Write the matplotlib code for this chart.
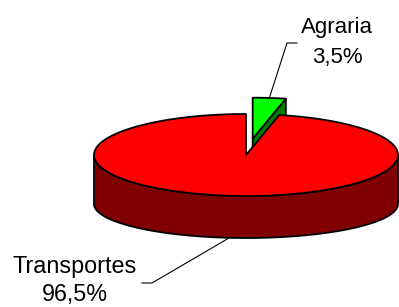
import numpy as np
import matplotlib.pyplot as plt

plt.rcParams["font.family"] = ["Liberation Sans", "DejaVu Sans"]

# --- data ---
categories = ["Agraria", "Transportes"]
shares = [3.5, 96.5]
explode = [0.4, 0.0]

# --- style / layout (pixel space) ---
top_colors = ["#00FF00", "#FF0000"]
side_colors = ["#008000", "#800000"]
CX, CY = 246.0, 155.0          # centre of the top face
A, B = 152.0, 41.0             # semi axes of top ellipse
CY_BOT, B_BOT = 204.0, 34.0    # bottom ellipse (perspective)
# label anchor (x, y of first line), gap to second line, leader elbow
label_pos = [(337, 27), (75, 266)]
label_gap = [31, 29]
label_size = [16, 16.8]
elbow = [((297, 43), (287, 43)), ((142, 283), (152, 283))]
leader_on = ["top", "bottom"]


def top_pt(t, r=1.0, off=(0.0, 0.0)):
    return (CX + off[0] + r * A * np.sin(t), CY + off[1] - r * B * np.cos(t))


def bot_pt(t, r=1.0, off=(0.0, 0.0)):
    return (CX + off[0] + r * A * np.sin(t), CY_BOT + off[1] - r * B_BOT * np.cos(t))


fig = plt.figure(figsize=(3.99, 3.07), dpi=100)
ax = fig.add_axes([0, 0, 1, 1])
ax.set_xlim(0, 399)
ax.set_ylim(307, 0)
ax.axis("off")

# angles clockwise from 12 o'clock
bounds = np.concatenate([[0], np.cumsum(shares)]) / sum(shares) * 2 * np.pi
slices = []
for i in range(len(shares)):
    t0, t1 = bounds[i], bounds[i + 1]
    mid = (t0 + t1) / 2
    off = (explode[i] * A * np.sin(mid), -explode[i] * B * np.cos(mid))
    slices.append((i, t0, t1, mid, off))

# paint from back to front
order = sorted(slices, key=lambda s: -np.cos(s[3]))
ec = dict(edgecolor="black", linewidth=1.3, joinstyle="round")

for i, t0, t1, mid, off in order:
    # cut faces
    for t, normal in ((t0, t0 - np.pi / 2), (t1, t1 + np.pi / 2)):
        if np.cos(normal - np.pi) > 1e-6:
            c_top = top_pt(t, 0, off)
            e_top = top_pt(t, 1, off)
            e_bot = bot_pt(t, 1, off)
            c_bot = bot_pt(t, 0, off)
            ax.add_patch(plt.Polygon([c_top, e_top, e_bot, c_bot],
                                     facecolor=side_colors[i], **ec))
    # outer side (front half only)
    lo, hi = max(t0, np.pi / 2), min(t1, 3 * np.pi / 2)
    if hi > lo:
        ts = np.linspace(lo, hi, 200)
        up = [top_pt(t, 1, off) for t in ts]
        dn = [bot_pt(t, 1, off) for t in ts[::-1]]
        ax.add_patch(plt.Polygon(up + dn, facecolor=side_colors[i], **ec))
    # top face
    ts = np.linspace(t0, t1, 400)
    pts = [top_pt(0, 0, off)] + [top_pt(t, 1, off) for t in ts]
    ax.add_patch(plt.Polygon(pts, facecolor=top_colors[i], **ec))

# labels and leader lines
for i, t0, t1, mid, off in slices:
    lx, ly = label_pos[i]
    pct = f"{shares[i]:.1f}".replace(".", ",") + "%"
    ax.text(lx, ly, categories[i], ha="center", va="center", fontsize=label_size[i])
    ax.text(lx, ly + label_gap[i], pct, ha="center", va="center",
            fontsize=label_size[i])
    end = top_pt(mid, 1, off) if leader_on[i] == "top" else bot_pt(mid, 1, off)
    (x0, y0), (x1, y1) = elbow[i]
    ax.plot([x0, x1, end[0]], [y0, y1, end[1]], color="black", lw=0.8)

fig.savefig("out.png", dpi=100)
